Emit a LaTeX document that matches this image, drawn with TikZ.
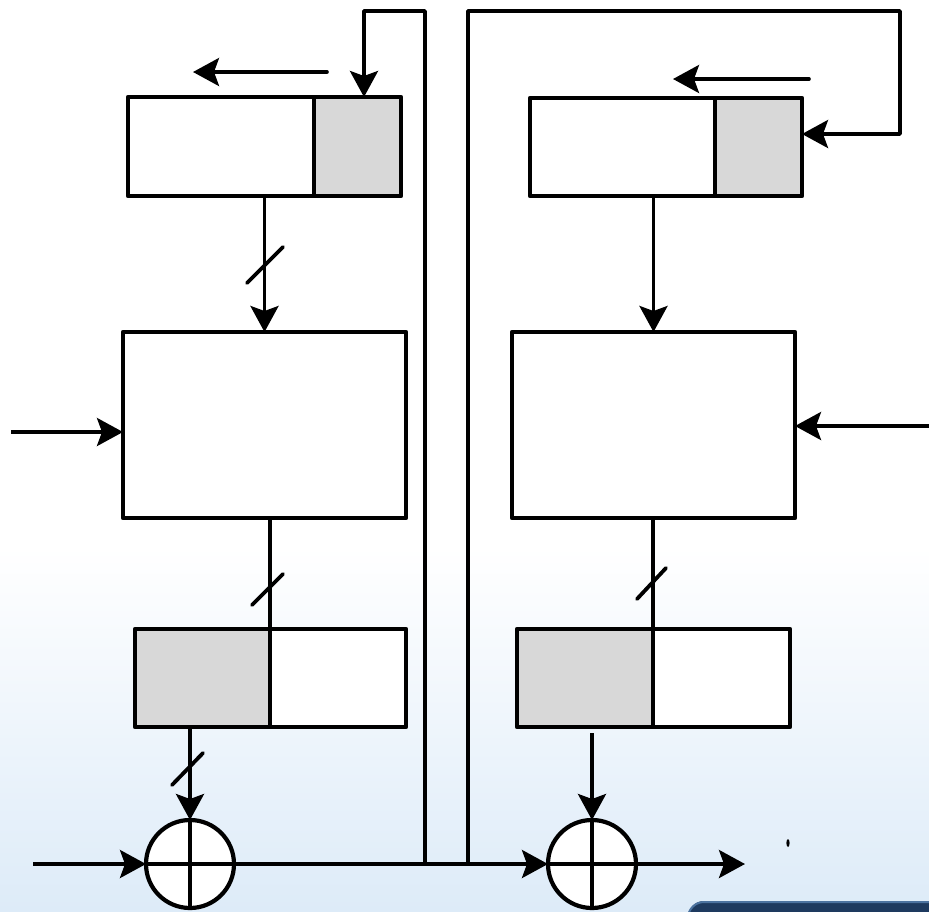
\documentclass[tikz,border=0pt]{standalone}
\usetikzlibrary{arrows.meta,calc}
\definecolor{bgblue}{HTML}{BAD7F2}
\definecolor{bgmid}{HTML}{DDEBF8}
\definecolor{cellgray}{HTML}{D8D8D8}
\definecolor{navy}{HTML}{1E3A5F}
\definecolor{navyedge}{HTML}{4C73A0}
\pgfdeclareverticalshading{bgsh}{100bp}{color(0bp)=(bgblue); color(25bp)=(bgmid); color(45bp)=(white); color(100bp)=(white)}
\begin{document}
\begin{tikzpicture}[x=1pt,y=-1pt,
  cell/.style={draw,line width=4.2pt,inner sep=0pt,outer sep=0pt,fill=white,line join=round},
  graycell/.style={cell,fill=cellgray},
  xor/.style={draw,circle,line width=4.2pt,fill=white,minimum size=88pt,inner sep=0pt,outer sep=0pt},
  wire/.style={line width=3.6pt,line join=round},
  arr/.style={wire,-{Stealth[length=26pt,width=28pt,inset=5pt]}},
  slash/.style={line width=3.8pt,line cap=round}]
\useasboundingbox (0,0) rectangle (929,911);
% backdrop
\shade[shading=bgsh] (0,0) rectangle (929,911);
\fill[navy,rounded corners=16pt] (688,901) rectangle (960,960);
\draw[navyedge,line width=2pt,rounded corners=16pt] (960,902) -- (688,902) -- (688,960);

% shift registers (top row)
\node[cell,minimum width=186pt,minimum height=99pt] (tlA) at (221,146.5) {};
\node[graycell,minimum width=87pt,minimum height=99pt] (tlB) at (357.5,146.5) {};
\node[cell,minimum width=185pt,minimum height=98pt] (trA) at (622.5,147) {};
\node[graycell,minimum width=87pt,minimum height=98pt] (trB) at (758.5,147) {};

% cipher blocks
\node[cell,minimum width=283pt,minimum height=186pt] (boxL) at (264.5,425) {};
\node[cell,minimum width=283pt,minimum height=186pt] (boxR) at (653.5,425) {};

% output registers (bottom row)
\node[graycell,minimum width=135pt,minimum height=98pt] (blA) at (202.5,678) {};
\node[cell,minimum width=136pt,minimum height=98pt] (blB) at (338,678) {};
\node[graycell,minimum width=136pt,minimum height=98pt] (brA) at (585,678) {};
\node[cell,minimum width=137pt,minimum height=98pt] (brB) at (721.5,678) {};

% XOR gates
\node[xor] (xorL) at (190,864) {};
\node[xor] (xorR) at (592,864) {};
\draw[line width=3.6pt] (xorL.north) -- (xorL.south) (xorL.west) -- (xorL.east);
\draw[line width=3.6pt] (xorR.north) -- (xorR.south) (xorR.west) -- (xorR.east);

% shift direction arrows
\coordinate (shL1) at (327,72);
\coordinate (shL2) at (193,72);
\coordinate (shR1) at (809,79);
\coordinate (shR2) at (673,79);
\draw[arr,line cap=round] (shL1) -- (shL2);
\draw[arr,line cap=round] (shR1) -- (shR2);

% register -> cipher block
\draw[arr] (boxL.north |- tlA.south) -- (boxL.north);
\draw[arr] (boxR.north |- trA.south) -- (boxR.north);
\draw[slash] (247,283) -- (283,247);

% cipher block -> output register
\draw[wire] (270,518) -- (blA.east |- blA.north);
\draw[wire] (653,518) -- (brA.east |- brA.north);
\draw[slash] (252,605) -- (283,574);
\draw[slash] (637,599) -- (666,568);

% output register -> XOR
\draw[arr] (xorL.north |- blA.south) -- (xorL.north);
\draw[slash] (172,785) -- (203,753);
\draw[arr] ($(xorR.north |- brA.south)+(0,6)$) -- (xorR.north);

% key inputs
\coordinate (inL) at (11,432);
\coordinate (inR) at (929,426);
\draw[arr] (inL) -- (inL -| boxL.west);
\draw[arr] (inR) -- (inR -| boxR.east);

% data path
\coordinate (pin) at (33,864);
\coordinate (pout) at (745,864);
\draw[arr] (pin) -- (xorL.west);
\draw[arr] (xorL.east) -- (xorR.west);
\draw[arr] (xorR.east) -- (pout);

% feedback loops
\coordinate (fbL) at (425,864);
\coordinate (fbR) at (468,864);
\draw[arr] (fbL) -- (425,11) -- (364,11) -- (364,97);
\draw[arr] (fbR) -- (468,11) -- (900,11) -- (900,134) -- (trB.east |- 0,134);

% small mark
\fill (788,843) ellipse (1.6pt and 4pt);
\end{tikzpicture}
\end{document}
